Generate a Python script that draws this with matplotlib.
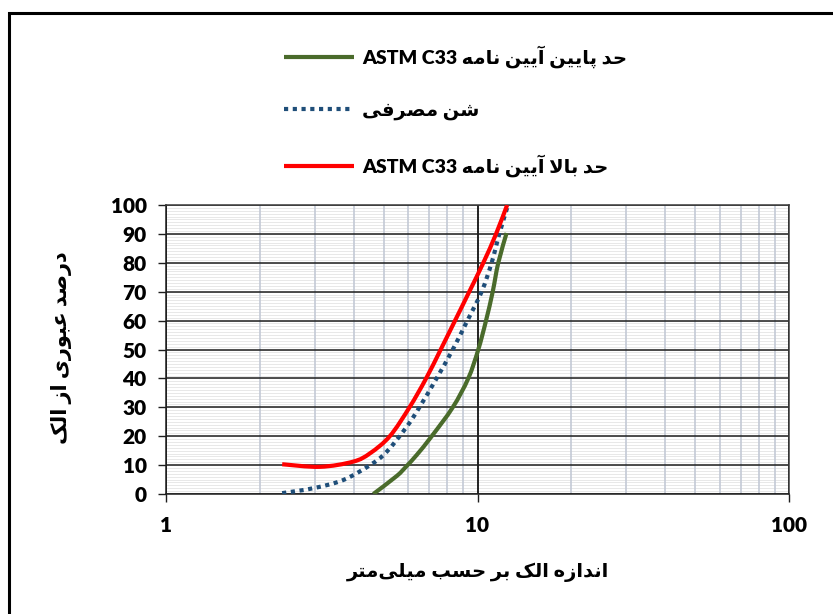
import re
import numpy as np
import matplotlib
matplotlib.use("Agg")
import matplotlib.pyplot as plt
from matplotlib.lines import Line2D
from matplotlib.patches import Rectangle, PathPatch
from matplotlib.path import Path
from matplotlib.ticker import FixedLocator, NullFormatter

# ---- data (sieve size in mm, percent passing) ----
upper_x = [2.36, 3.12, 3.99, 4.52, 5.23, 6.05, 6.84, 7.62, 8.47, 9.41, 10.44, 11.47, 12.45]
upper_y = [10.3, 9.4, 11.2, 14.1, 20.0, 30.0, 40.0, 50.0, 60.0, 70.0, 80.0, 90.0, 100.0]

sand_x = [2.36, 2.97, 3.70, 4.52, 5.11, 5.93, 6.51, 7.39, 8.33, 9.28, 10.31, 11.10, 11.75, 12.45]
sand_y = [0.3, 2.0, 4.8, 10.0, 14.6, 23.3, 30.0, 40.0, 50.0, 60.0, 70.0, 80.0, 90.0, 99.0]

lower_x = [4.63, 5.50, 5.89, 6.38, 7.13, 8.33, 9.34, 10.06, 10.65, 11.19, 11.66, 12.40]
lower_y = [0.0, 6.2, 9.4, 13.5, 20.0, 30.0, 40.0, 50.0, 60.0, 70.0, 80.0, 90.3]

x_ticks = [1, 10, 100]
x_tick_labels = ["1", "10", "100"]
y_ticks = list(range(0, 101, 10))

label_lower = "حد پایین آیین نامه ASTM C33"
label_sand = "شن مصرفی"
label_upper = "حد بالا آیین نامه ASTM C33"
x_title = "اندازه الک بر حسب میلی\u200cمتر"
y_title = "درصد عبوری از الک"

# ---- minimal Persian shaping + right-to-left ordering ----
# letter: (isolated, final, initial, medial); None for letters that do not join forward
FORMS = {
    "ا": ("\uFE8D", "\uFE8E", None, None),
    "آ": ("\uFE81", "\uFE82", None, None),
    "ب": ("\uFE8F", "\uFE90", "\uFE91", "\uFE92"),
    "پ": ("\uFB56", "\uFB57", "\uFB58", "\uFB59"),
    "ت": ("\uFE95", "\uFE96", "\uFE97", "\uFE98"),
    "ح": ("\uFEA1", "\uFEA2", "\uFEA3", "\uFEA4"),
    "د": ("\uFEA9", "\uFEAA", None, None),
    "ر": ("\uFEAD", "\uFEAE", None, None),
    "ز": ("\uFEAF", "\uFEB0", None, None),
    "س": ("\uFEB1", "\uFEB2", "\uFEB3", "\uFEB4"),
    "ش": ("\uFEB5", "\uFEB6", "\uFEB7", "\uFEB8"),
    "ص": ("\uFEB9", "\uFEBA", "\uFEBB", "\uFEBC"),
    "ع": ("\uFEC9", "\uFECA", "\uFECB", "\uFECC"),
    "ف": ("\uFED1", "\uFED2", "\uFED3", "\uFED4"),
    "ک": ("\uFB8E", "\uFB8F", "\uFB90", "\uFB91"),
    "ل": ("\uFEDD", "\uFEDE", "\uFEDF", "\uFEE0"),
    "م": ("\uFEE1", "\uFEE2", "\uFEE3", "\uFEE4"),
    "ن": ("\uFEE5", "\uFEE6", "\uFEE7", "\uFEE8"),
    "ه": ("\uFEE9", "\uFEEA", "\uFEEB", "\uFEEC"),
    "و": ("\uFEED", "\uFEEE", None, None),
    "ی": ("\uFBFC", "\uFBFD", "\uFBFE", "\uFBFF"),
}
LAM_ALEF = {"ا": ("\uFEFB", "\uFEFC"), "آ": ("\uFEF5", "\uFEF6")}


def shape(word):
    chars = list(word)
    out = []
    i = 0
    n = len(chars)
    while i < n:
        c = chars[i]
        if c not in FORMS:
            if c != "\u200c":
                out.append(c)
            i += 1
            continue
        prev = chars[i - 1] if i > 0 else None
        joins_prev = prev in FORMS and FORMS[prev][2] is not None
        if c == "ل" and i + 1 < n and chars[i + 1] in LAM_ALEF:
            iso, fin = LAM_ALEF[chars[i + 1]]
            out.append(fin if joins_prev else iso)
            i += 2
            continue
        nxt = chars[i + 1] if i + 1 < n else None
        joins_next = FORMS[c][2] is not None and nxt in FORMS
        iso, fin, ini, med = FORMS[c]
        if joins_prev and joins_next:
            out.append(med)
        elif joins_prev:
            out.append(fin)
        elif joins_next:
            out.append(ini)
        else:
            out.append(iso)
        i += 1
    return "".join(out)


def rtl(text):
    runs = re.split(r"([A-Za-z0-9]+(?: [A-Za-z0-9]+)*)", text)
    visual = []
    for run in reversed(runs):
        if re.fullmatch(r"[A-Za-z0-9 ]*", run):
            visual.append(run)
        else:
            visual.append(shape(run)[::-1])
    return "".join(visual)


def smooth_path(xs, ys):
    """Catmull-Rom style cubic Bezier through the points, built in log-x space."""
    u = np.log10(np.asarray(xs, float))
    v = np.asarray(ys, float)
    pts = np.column_stack([u, v])
    ext = np.vstack([pts[0], pts, pts[-1]])
    verts = [pts[0]]
    codes = [Path.MOVETO]
    for i in range(len(pts) - 1):
        p0, p1, p2, p3 = ext[i], ext[i + 1], ext[i + 2], ext[i + 3]
        c1 = p1 + (p2 - p0) / 6.0
        c2 = p2 - (p3 - p1) / 6.0
        verts += [c1, c2, p2]
        codes += [Path.CURVE4] * 3
    verts = np.array(verts)
    verts[:, 0] = 10 ** verts[:, 0]
    return Path(verts, codes)


FAMILY = ["Lato", "DejaVu Sans"]
plt.rcParams["font.family"] = FAMILY
plt.rcParams["font.weight"] = "bold"

fig = plt.figure(figsize=(8.33, 6.14), dpi=100)
ax = fig.add_axes([166 / 833, 1 - 494 / 614, 623 / 833, 289 / 614])

ax.set_xscale("log")
ax.set_xlim(1, 100)
ax.set_ylim(0, 100)

# grid
ax.xaxis.set_major_locator(FixedLocator(x_ticks))
ax.xaxis.set_minor_locator(FixedLocator([m * d for d in (1, 10) for m in range(2, 10)]))
ax.xaxis.set_minor_formatter(NullFormatter())
ax.yaxis.set_major_locator(FixedLocator(y_ticks))
ax.set_axisbelow(True)
ax.hlines(np.arange(1, 100), 1, 100, colors="#e4e4e4", lw=0.6, zorder=0.1)
ax.grid(which="minor", axis="x", color="#c3c9d5", lw=1.2)
ax.grid(which="major", axis="y", color="#1e1e1e", lw=1.1)
ax.grid(which="major", axis="x", color="#111111", lw=1.3)

for side in ("left", "bottom"):
    ax.spines[side].set_color("#1e1e1e")
    ax.spines[side].set_linewidth(1.1)
for side in ("top", "right"):
    ax.spines[side].set_color("#3a3a3a")
    ax.spines[side].set_linewidth(1.1)

ax.tick_params(which="major", direction="out", length=6, width=1.0, color="#1e1e1e")
ax.tick_params(which="minor", length=0)
ax.tick_params(axis="x", pad=10)
ax.tick_params(axis="y", pad=8)
ax.set_xticklabels(x_tick_labels)
for lab in ax.get_xticklabels() + ax.get_yticklabels():
    lab.set_fontsize(15)
    lab.set_fontweight("heavy")
    lab.set_family(FAMILY)

# curves (smoothed)
styles = [
    (lower_x, lower_y, dict(color="#4a6b2b", lw=3.0, linestyle="-")),
    (sand_x, sand_y, dict(color="#1f4e79", lw=3.0, linestyle=(0, (1.0, 1.1)))),
    (upper_x, upper_y, dict(color="#ff0000", lw=3.0, linestyle="-")),
]
handles = []
for z, (xs, ys, st) in enumerate(styles):
    patch = PathPatch(smooth_path(xs, ys), fill=False, edgecolor=st["color"], lw=st["lw"],
                      linestyle=st["linestyle"], capstyle="butt", zorder=3 + z)
    ax.add_patch(patch)
    handles.append(Line2D([], [], color=st["color"], lw=st["lw"], linestyle=st["linestyle"],
                          dash_capstyle="butt", solid_capstyle="butt"))

leg = ax.legend(handles,
                [rtl(label_lower), rtl(label_sand), rtl(label_upper)],
                loc="upper left", bbox_to_anchor=(284 / 833, 1 - 45 / 614),
                bbox_transform=fig.transFigure, frameon=False, borderpad=0,
                borderaxespad=0, handlelength=3.6, handletextpad=0.4,
                labelspacing=1.75, prop={"family": FAMILY, "weight": "heavy", "size": 14})

# axis titles
fig.text(478 / 833, 1 - 572 / 614, rtl(x_title), ha="center", va="center",
         fontsize=14, fontweight="bold", family=FAMILY)
fig.text(62 / 833, 1 - 348 / 614, rtl(y_title), ha="center", va="center",
         rotation=90, fontsize=15, fontweight="bold", family=FAMILY)

# outer frame
fig.add_artist(Rectangle((9 / 833, -0.5), 2.0, 0.5 + 1 - 13 / 614, transform=fig.transFigure,
                         fill=False, edgecolor="black", lw=2.2, clip_on=False))

fig.savefig("out.png", dpi=100)
